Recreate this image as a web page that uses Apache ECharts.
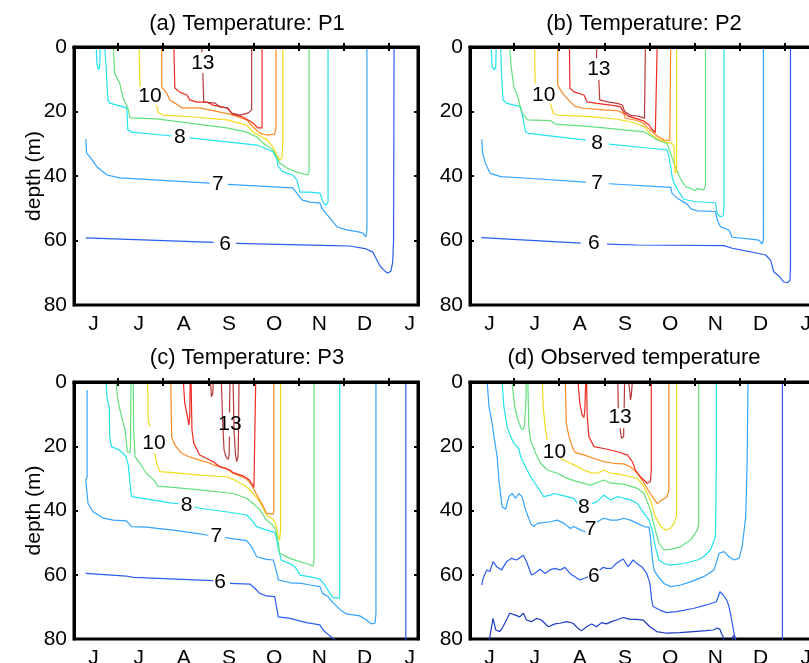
<!DOCTYPE html>
<html>
<head>
<meta charset="utf-8">
<title>Temperature contours</title>
<script src="https://cdn.jsdelivr.net/npm/echarts@6/dist/echarts.min.js"></script>
<style>
  html, body { margin: 0; padding: 0; background: #fff; }
  #chart { width: 809px; height: 663px; }
</style>
</head>
<body>
<div id="chart"></div>
<script>
// x = months since 1 June, y = depth in metres. null marks a break in a contour (label gap / new branch).
const monthLetters = ['J', 'J', 'A', 'S', 'O', 'N', 'D', 'J'];
const monthStarts = [1, 2, 3, 4, 5, 6, 7];
const monthMids = [0.46, 1.46, 2.46, 3.46, 4.46, 5.46, 6.46, 7.46];
const depthTicks = [0, 20, 40, 60, 80];
const levels = [5, 6, 7, 8, 9, 10, 11, 12, 13];
const levelColors = ['#1e3cc2', '#2a5ef0', '#34a4ff', '#22e2ee', '#64df7e', '#f0dc1e', '#fb8a24', '#ee2b22', '#b63a3a'];

// ---- (a) P1 ----
const a6 = [[0.29,59.2],[3.12,60.6],null,[3.61,60.9],[5.76,61.6],[6.13,61.7],[6.47,62.5],[6.64,63.6],[6.71,65.5],[6.80,67.9],[6.91,69.5],[6.97,70.1],[7.04,69.5],[7.08,66.7],[7.10,59.8],[7.11,0]];
const a7 = [[0.29,28.5],[0.31,32.9],[0.38,34.1],[0.54,37.2],[0.76,39.7],[1.04,40.6],[3.03,42.2],null,[3.43,42.6],[4.87,43.7],[4.96,45.3],[5.07,47.4],[5.25,48.1],[5.47,48.4],[5.51,49.9],[5.58,51.2],[5.69,53.0],[5.85,55.8],[6.07,56.7],[6.35,57.4],[6.42,57.7],[6.49,58.9],[6.51,56.7],[6.51,0]];
const a8 = [[0.71,0],[0.74,6.2],[0.78,16.4],[0.82,17.4],[1.20,18.9],[1.22,25.7],[1.31,26.4],[2.20,27.6],null,[2.59,28.2],[4.08,30.4],[4.43,32.5],[4.52,34.8],[4.54,36.8],[4.63,38.5],[4.74,39.1],[4.87,39.7],[4.96,41.2],[5.03,45.0],[5.25,45.0],[5.47,45.3],[5.54,48.1],[5.60,49.0],[5.65,48.1],[5.65,0],
  null,[0.52,0],[0.54,5.6],[0.58,7.1],[0.60,5.6],[0.61,0]];
const a9 = [[0.90,0],[0.93,8.1],[1.04,11.2],[1.11,15.5],[1.22,18.9],[1.27,22.0],[1.86,22.3],[3.41,25.1],[3.85,26.4],[4.08,27.9],[4.21,29.8],[4.43,31.9],[4.52,34.1],[4.58,36.0],[4.74,37.5],[4.96,38.8],[5.20,39.7],[5.23,38.5],[5.23,0]];
const a10 = [[1.47,0],[1.49,12.4],null,[1.86,18.0],[1.89,20.2],[2.00,21.1],[2.66,21.7],[3.41,22.6],[3.85,24.2],[3.99,26.4],[4.10,27.2],[4.30,28.8],[4.43,31.0],[4.52,33.5],[4.58,35.0],[4.63,34.4],[4.65,30.0],[4.65,0]];
const a11 = [[1.97,0],[1.97,12.4],[2.08,14.3],[2.15,16.4],[2.33,18.0],[2.42,18.9],[2.81,18.9],[3.26,20.2],[3.48,20.8],[3.85,22.6],[3.99,24.8],[4.14,26.7],[4.30,27.3],[4.47,27.0],[4.50,25.0],[4.50,0]];
const a12 = [[2.24,0],[2.26,12.7],[2.37,14.0],[2.53,14.9],[2.59,16.4],[2.75,17.1],[2.97,17.1],[3.10,18.0],[3.41,18.9],[3.54,20.8],[3.77,21.7],[3.99,23.6],[4.10,25.1],[4.19,25.1],[4.19,0]];
const a13 = [[2.86,0],[2.86,1.6],null,[2.88,8.1],[2.90,17.1],[3.15,17.4],[3.26,18.6],[3.43,18.9],[3.52,20.5],[3.70,21.1],[3.88,20.5],[3.96,19.5],[3.96,0]];
const labelsA = [[2.88,5.0,13],[1.71,15.2,10],[2.37,27.9,8],[3.21,42.5,7],[3.37,61.2,6]];

// ---- (b) P2 ----
const b6 = [[0.28,59.1],[2.48,60.8],null,[3.06,61.1],[3.73,61.4],[5.65,61.6],[5.83,62.4],[6.24,63.5],[6.57,64.5],[6.68,66.1],[6.75,69.7],[6.86,71.0],[6.97,72.8],[7.05,73.1],[7.11,72.3],[7.12,68.1],[7.12,0]];
const b7 = [[0.29,28.6],[0.31,33.0],[0.37,36.1],[0.48,39.2],[0.71,40.2],[1.30,40.7],[2.59,41.9],null,[3.10,42.4],[4.47,43.5],[4.50,45.4],[4.61,46.8],[4.84,48.8],[4.92,50.2],[5.06,50.8],[5.46,51.0],[5.50,53.6],[5.57,55.7],[5.76,56.8],[5.83,59.0],[6.24,59.6],[6.42,59.9],[6.49,61.1],[6.52,59.9],[6.52,0]];
const b8 = [[0.71,0],[0.72,6.1],[0.76,16.4],[0.85,17.5],[1.15,18.5],[1.21,22.6],[1.26,26.3],[1.33,26.8],[2.59,28.9],null,[3.10,30.1],[4.02,31.4],[4.39,31.9],[4.43,34.0],[4.47,37.1],[4.50,40.2],[4.54,42.1],[4.65,44.9],[4.76,47.2],[4.98,47.9],[5.46,48.3],[5.50,51.6],[5.56,52.6],[5.63,52.4],[5.65,49.5],[5.65,0],
  null,[0.50,0],[0.52,6.1],[0.57,7.1],[0.60,6.1],[0.61,0]];
const b9 = [[0.91,0],[0.94,6.1],[1.00,12.3],[1.11,16.4],[1.15,19.5],[1.22,21.1],[1.30,22.6],[1.81,22.8],[1.92,23.9],[2.70,24.7],[3.88,26.3],[4.06,27.8],[4.17,28.8],[4.39,29.9],[4.47,33.0],[4.54,36.1],[4.69,41.0],[4.80,43.3],[4.91,43.8],[5.00,44.6],[5.06,43.9],[5.20,44.3],[5.24,43.0],[5.24,0]];
const b10 = [[1.46,0],[1.47,11.3],null,[1.81,17.5],[1.87,20.6],[1.96,21.1],[2.70,21.6],[3.29,22.4],[3.43,22.8],[3.66,23.5],[3.88,24.7],[4.02,27.0],[4.17,28.4],[4.39,29.6],[4.50,29.9],[4.54,30.9],[4.56,38.1],[4.58,39.2],[4.60,38.1],[4.60,0]];
const b11 = [[1.97,0],[1.97,11.8],[2.03,13.3],[2.11,14.9],[2.25,17.0],[2.36,18.5],[2.55,19.0],[2.99,19.5],[3.29,19.7],[3.43,20.6],[3.47,22.1],[3.73,22.8],[3.88,23.7],[3.95,25.0],[4.06,26.2],[4.17,27.6],[4.32,28.8],[4.45,29.0],[4.47,0]];
const b12 = [[2.23,0],[2.24,12.8],[2.33,13.9],[2.55,14.9],[2.62,17.0],[2.84,17.5],[3.14,18.0],[3.36,18.5],[3.43,20.3],[3.54,21.5],[3.73,22.3],[3.88,23.0],[3.99,24.2],[4.06,25.6],[4.13,26.5],[4.17,26.8],[4.17,0]];
const b13 = [[2.83,0],[2.83,3.5],null,[2.88,10.2],[2.90,16.4],[3.07,17.0],[3.29,17.5],[3.40,18.0],[3.45,20.0],[3.58,21.2],[3.73,21.4],[3.77,22.0],[3.84,21.8],[3.89,22.2],[3.91,21.8],[3.91,0]];
const labelsB = [[2.88,6.9,13],[1.66,14.9,10],[2.84,29.9,8],[2.84,42.3,7],[2.77,60.9,6]];

// ---- (c) P3 ----
const c6 = [[0.29,59.6],[1.19,60.4],[1.34,60.8],[3.11,61.8],null,[3.48,62.7],[3.92,62.9],[4.03,64.2],[4.14,65.8],[4.29,66.6],[4.47,66.8],[4.51,69.9],[4.55,73.1],[4.81,73.6],[5.17,74.9],[5.47,75.6],[5.54,77.2],[5.69,79.1],[5.76,79.8],[5.84,80.8],
  null,[7.37,0],[7.37,81]];
const c7 = [[0.32,2.5],[0.32,29.5],[0.29,30.5],[0.34,37.8],[0.45,40.4],[0.68,42.4],[0.90,43.0],[1.19,43.2],[1.30,45.0],[1.63,45.2],[2.22,46.1],[2.81,47.3],[3.00,47.7],null,[3.37,48.4],[3.48,48.7],[3.85,49.4],[3.96,51.3],[4.07,54.4],[4.29,55.2],[4.44,55.4],[4.50,58.5],[4.55,61.6],[4.81,62.5],[5.06,62.7],[5.25,63.2],[5.47,63.7],[5.53,65.8],[5.65,66.8],[5.76,68.7],[5.91,70.8],[6.06,72.2],[6.35,72.8],[6.50,74.1],[6.61,75.3],[6.69,75.1],[6.71,72.0],[6.71,0]];
const c8 = [[0.74,0],[0.76,4.6],[0.81,8.2],[0.82,17.0],[0.86,20.1],[1.04,21.2],[1.18,23.2],[1.23,25.8],[1.30,35.7],[1.56,36.2],[1.86,36.9],[2.15,37.6],[2.35,37.9],null,[2.70,38.9],[2.81,39.3],[3.55,40.7],[3.85,41.4],[3.96,43.0],[4.07,45.0],[4.29,46.1],[4.47,46.8],[4.51,48.5],[4.55,52.0],[4.62,55.5],[4.81,56.6],[4.92,57.5],[5.03,60.1],[5.32,60.8],[5.47,61.4],[5.58,63.2],[5.69,65.8],[5.76,67.1],[5.90,67.3],[5.91,65.8],[5.91,0]];
const c9 = [[0.96,0],[0.99,4.6],[1.03,7.7],[1.10,11.8],[1.16,14.9],[1.19,19.1],[1.21,21.7],[1.27,22.0],[1.28,20.1],[1.29,0],
  null,[1.34,0],[1.35,14.9],[1.38,23.2],[1.49,25.3],[1.63,28.4],[1.78,30.3],[1.89,32.4],[2.22,32.8],[2.81,33.6],[3.55,34.7],[3.85,36.2],[3.99,37.8],[4.14,39.8],[4.29,43.0],[4.42,44.5],[4.47,45.5],[4.51,47.0],[4.55,50.0],[4.58,53.3],[4.81,54.9],[4.95,55.6],[5.17,56.5],[5.32,57.3],[5.34,55.4],[5.34,0]];
const c10 = [[1.66,0],[1.67,11.8],[1.71,13.9],null,[1.82,22.2],[1.86,25.3],[1.93,27.9],[2.22,28.2],[2.81,29.0],[3.40,29.5],[3.55,30.3],[3.85,32.6],[3.99,34.7],[4.14,37.2],[4.29,41.5],[4.44,42.8],[4.50,44.5],[4.55,48.1],[4.58,49.2],[4.60,46.1],[4.60,0]];
const c11 = [[2.17,0],[2.19,17.0],[2.26,19.6],[2.41,22.2],[2.56,23.2],[2.81,24.3],[3.04,25.3],[3.11,25.8],[3.40,26.9],[3.55,28.4],[3.85,30.2],[3.96,32.0],[4.07,35.0],[4.22,38.8],[4.29,40.9],[4.44,41.1],[4.45,39.8],[4.45,0]];
const c12 = [[2.62,0],[2.64,14.9],[2.68,19.1],[2.81,22.7],[3.11,24.8],[3.26,26.4],[3.48,27.4],[3.55,28.2],[3.77,29.2],[3.91,30.5],[4.01,32.8],[4.04,33.4],[4.05,32.6],[4.05,0],
  null,[2.45,0],[2.48,6.6],[2.54,10.8],[2.57,13.4],[2.59,10.8],[2.60,0]];
const c13 = [[3.05,0],[3.07,4.6],[3.09,5.1],[3.10,3.5],[3.11,0],
  null,[3.29,0],[3.32,12.9],[3.35,21.2],[3.39,23.2],[3.44,24.1],[3.46,23.0],[3.47,17.0],
  null,[3.47,9.5],[3.48,0],
  null,[3.55,0],[3.57,14.9],[3.60,22.2],[3.63,24.8],[3.65,25.3],[3.66,23.2],[3.67,14.9],[3.68,0]];
const labelsC = [[3.48,13.2,13],[1.80,19.1,10],[2.52,38.3,8],[3.18,48.1,7],[3.26,62.4,6]];

// ---- (d) observed ----
const d5 = [[0.45,80.5],[0.47,79.3],[0.54,73.6],[0.60,77.2],[0.69,77.7],[0.76,76.2],[0.91,72.0],[1.02,72.5],[1.13,73.1],[1.21,72.0],[1.28,74.1],[1.39,74.6],[1.50,73.6],[1.61,74.1],[1.76,76.2],[1.91,75.3],[2.02,75.1],[2.17,74.6],[2.31,75.1],[2.42,76.7],[2.50,77.4],[2.61,76.2],[2.72,75.3],[2.83,76.2],[2.94,74.9],[3.05,75.3],[3.16,74.6],[3.27,74.1],[3.42,73.3],[3.57,73.9],[3.71,73.9],[3.86,74.1],[4.01,76.2],[4.16,77.7],[4.38,78.2],[4.67,78.0],[4.97,77.7],[5.26,77.4],[5.41,77.2],[5.50,76.6],[5.56,77.0],[5.59,78.2],[5.63,79.3],[5.65,80.5],
  null,[5.83,80.5],[5.85,79.0],[5.87,78.4],[5.90,79.5],[5.92,80.5]];
const d6 = [[0.29,63.2],[0.32,61.1],[0.40,58.5],[0.47,59.0],[0.54,55.9],[0.62,57.5],[0.73,58.5],[0.84,55.9],[0.95,54.9],[1.06,55.4],[1.21,53.9],[1.28,55.9],[1.39,60.1],[1.46,59.6],[1.58,58.3],[1.69,59.6],[1.80,58.5],[1.91,58.0],[2.02,58.5],[2.13,57.7],[2.24,59.6],[2.35,60.6],[2.46,61.6],[2.57,61.1],[2.64,60.6],null,[2.90,58.5],[2.98,57.7],[3.05,58.0],[3.16,58.0],[3.27,56.4],[3.42,55.1],[3.53,57.5],[3.64,55.4],[3.71,56.4],[3.83,57.5],[3.94,59.6],[4.01,62.7],[4.05,67.9],[4.08,69.9],[4.23,71.0],[4.38,71.8],[4.60,71.5],[4.97,70.5],[5.26,69.4],[5.48,68.4],[5.56,65.3],[5.63,66.3],[5.71,67.9],[5.76,69.9],[5.82,74.1],[5.87,78.2],[5.90,80.0],[5.91,81.4],
  null,[6.94,0],[6.94,81]];
const d7 = [[0.41,0],[0.45,7.7],[0.52,12.9],[0.56,17.0],[0.63,23.2],[0.67,30.5],[0.74,38.8],[0.82,39.6],[0.89,35.7],[0.96,34.7],[1.04,36.2],[1.11,34.7],[1.18,35.7],[1.26,39.8],[1.37,44.0],[1.44,45.0],[1.52,44.0],[1.66,43.8],[1.81,43.5],[1.96,43.0],[2.11,44.0],[2.25,45.6],[2.33,45.0],[2.48,46.1],[2.59,46.6],null,[2.84,43.5],[2.99,42.4],[3.14,43.0],[3.29,43.0],[3.43,42.4],[3.58,43.0],[3.73,44.0],[3.88,45.0],[3.99,45.2],[4.02,48.1],[4.06,54.4],[4.10,58.5],[4.17,60.1],[4.32,62.7],[4.47,63.7],[4.69,63.2],[4.91,62.2],[5.20,60.6],[5.43,58.5],[5.54,53.3],[5.65,52.8],[5.76,54.4],[5.87,55.4],[5.98,54.9],[6.05,51.3],[6.13,41.9],[6.16,25.3],[6.18,0]];
const d8 = [[0.74,0],[0.78,7.7],[0.85,13.9],[0.93,17.0],[1.00,19.1],[1.11,20.7],[1.15,23.2],[1.22,25.3],[1.37,29.5],[1.52,32.6],[1.66,35.7],[1.81,35.2],[1.89,34.7],[2.03,35.2],[2.18,35.7],[2.33,36.2],[2.40,37.8],null,[2.73,37.8],[2.84,37.3],[2.99,35.2],[3.14,36.7],[3.29,35.7],[3.43,36.2],[3.58,36.7],[3.73,37.8],[3.88,40.9],[3.99,43.0],[4.06,46.1],[4.13,51.3],[4.21,55.4],[4.32,56.5],[4.47,57.0],[4.76,56.5],[5.06,55.4],[5.20,54.4],[5.35,52.3],[5.46,48.1],[5.48,25.3],[5.48,0]];
const d9 = [[0.96,0],[1.02,7.7],[1.09,11.8],[1.16,14.4],[1.21,14.9],[1.24,12.9],[1.27,4.6],[1.27,0],
  null,[1.31,0],[1.33,13.9],[1.37,18.1],[1.48,22.2],[1.59,25.3],[1.74,27.4],[1.96,28.4],[2.18,30.0],[2.40,31.0],[2.70,32.1],[2.99,30.5],[3.14,31.5],[3.43,31.8],[3.73,33.1],[3.88,34.7],[4.02,39.8],[4.13,46.1],[4.21,50.2],[4.32,52.3],[4.47,52.1],[4.69,51.3],[4.91,49.2],[5.06,46.1],[5.09,44.0],[5.09,0]];
const d10 = [[1.63,0],[1.65,7.7],[1.70,14.9],[1.74,18.1],null,[2.03,23.8],[2.18,24.8],[2.33,25.8],[2.55,27.4],[2.70,28.2],[2.84,28.4],[2.99,27.4],[3.14,28.4],[3.29,28.6],[3.58,29.5],[3.73,30.0],[3.88,32.6],[4.02,36.7],[4.13,41.9],[4.25,45.0],[4.36,46.1],[4.47,45.6],[4.54,44.0],[4.60,41.9],[4.60,0]];
const d11 = [[2.14,0],[2.16,12.9],[2.22,17.0],[2.29,20.1],[2.36,22.0],[2.55,22.7],[2.77,23.8],[2.99,24.8],[3.21,25.3],[3.43,25.5],[3.58,26.4],[3.73,28.4],[3.88,31.5],[4.02,34.7],[4.17,37.8],[4.21,38.3],[4.28,36.7],[4.39,35.7],[4.43,33.6],[4.43,0]];
const d12 = [[2.42,0],[2.46,6.6],[2.51,10.3],[2.55,11.0],[2.57,8.7],[2.59,0],
  null,[2.61,0],[2.62,9.8],[2.66,17.0],[2.77,20.1],[2.99,20.7],[3.29,21.7],[3.51,22.7],[3.62,24.8],[3.69,27.4],[3.80,29.5],[3.95,31.5],[4.02,31.0],[4.04,27.4],[4.04,0]];
const d13 = [[3.30,0],[3.31,8.2],null,[3.35,14.4],[3.38,17.5],[3.40,18.1],[3.43,17.0],[3.43,14.4],null,[3.44,8.2],[3.45,0],
  null,[3.54,0],[3.57,3.5],[3.58,5.6],[3.60,4.0],[3.62,0]];
const labelsD = [[3.35,11.1,13],[1.90,21.7,10],[2.55,39.1,8],[2.70,45.8,7],[2.77,60.6,6]];

// ---- layout ----
const FONT = '"Liberation Sans", Arial, Helvetica, sans-serif';
const FS = 21;
const TITLE_FS = 22;
const X_MIN = 0.03, X_MAX = 7.64;
const panels = [
  { title: '(a) Temperature: P1', titleX: 247, titleY: 24, left: 74, top: 47, height: 258, labels: labelsA,
    lines: [[6, a6], [7, a7], [8, a8], [9, a9], [10, a10], [11, a11], [12, a12], [13, a13]] },
  { title: '(b) Temperature: P2', titleX: 644, titleY: 24, left: 470, top: 47, height: 258, labels: labelsB,
    lines: [[6, b6], [7, b7], [8, b8], [9, b9], [10, b10], [11, b11], [12, b12], [13, b13]] },
  { title: '(c) Temperature: P3', titleX: 247, titleY: 358, left: 74, top: 382, height: 257, labels: labelsC,
    lines: [[6, c6], [7, c7], [8, c8], [9, c9], [10, c10], [11, c11], [12, c12], [13, c13]] },
  { title: '(d) Observed temperature', titleX: 634, titleY: 358, left: 470, top: 382, height: 257, labels: labelsD,
    lines: [[5, d5], [6, d6], [7, d7], [8, d8], [9, d9], [10, d10], [11, d11], [12, d12], [13, d13]] }
];
const PANEL_W = 344;

const colorOf = lv => levelColors[levels.indexOf(lv)];
const toData = pts => pts.map(p => (p === null ? ['-', '-'] : p));

const frameLine = { show: true, lineStyle: { color: '#000', width: 3 } };
const innerTick = (values) => ({
  show: true, inside: true, length: 4,
  lineStyle: { color: '#000', width: 2 },
  ...(values ? { customValues: values } : {})
});
const tickText = { color: '#000', fontSize: FS, fontFamily: FONT };

const grid = [], xAxis = [], yAxis = [], series = [], graphic = [];

panels.forEach((p, i) => {
  // panels keep their exact rectangles even where tick labels run past the canvas edge
  grid.push({ left: p.left, top: p.top, width: PANEL_W, height: p.height, show: true,
    borderColor: '#000', borderWidth: 3, backgroundColor: 'transparent',
    containLabel: false, outerBoundsMode: 'none' });

  const xBase = { gridIndex: i, type: 'value', min: X_MIN, max: X_MAX, splitLine: { show: false }, axisLine: frameLine, z: 5 };
  xAxis.push({ ...xBase, position: 'bottom', axisTick: innerTick(monthStarts),
    axisLabel: { ...tickText, margin: 9, customValues: monthMids, formatter: v => monthLetters[Math.floor(v)] } });
  xAxis.push({ ...xBase, position: 'top', axisTick: innerTick(monthStarts), axisLabel: { show: false } });

  const yBase = { gridIndex: i, type: 'value', inverse: true, min: 0, max: 80, interval: 20, splitLine: { show: false }, axisLine: frameLine, z: 5 };
  yAxis.push({ ...yBase, position: 'left', axisTick: innerTick(),
    axisLabel: { ...tickText, margin: 7, formatter: v => (depthTicks.includes(v) ? String(v) : '') } });
  yAxis.push({ ...yBase, position: 'right', axisTick: innerTick(), axisLabel: { show: false } });

  p.lines.forEach(([lv, pts]) => {
    series.push({
      type: 'line', name: 'T' + lv, xAxisIndex: 2 * i, yAxisIndex: 2 * i,
      data: toData(pts), showSymbol: false, symbol: 'none', connectNulls: false,
      lineStyle: { color: colorOf(lv), width: 1.2 }, silent: true, clip: true, z: 2
    });
  });

  // contour level labels, each placed in the gap of its own contour
  series.push({
    type: 'scatter', name: 'labels' + i, xAxisIndex: 2 * i, yAxisIndex: 2 * i,
    data: p.labels, symbol: 'circle', symbolSize: 0.01, itemStyle: { color: '#000', opacity: 1 }, silent: true, z: 4,
    label: { show: true, position: 'inside', formatter: d => String(d.value[2]),
      color: '#000', opacity: 1, textBorderWidth: 0, fontSize: FS, fontFamily: FONT }
  });

  graphic.push({ type: 'text', x: p.titleX, y: p.titleY, silent: true,
    style: { text: p.title, textAlign: 'center', textVerticalAlign: 'middle', fill: '#000', fontSize: TITLE_FS, fontFamily: FONT } });
  if (i % 2 === 0) {
    graphic.push({ type: 'text', x: 34, y: p.top + p.height / 2, rotation: Math.PI / 2, silent: true,
      style: { text: 'depth (m)', textAlign: 'center', textVerticalAlign: 'middle', fill: '#000', fontSize: FS, fontFamily: FONT } });
  }
});

const chart = echarts.init(document.getElementById('chart'), null, { renderer: 'canvas' });
chart.setOption({ animation: false, backgroundColor: '#fff', grid, xAxis, yAxis, series, graphic });
</script>
</body>
</html>
